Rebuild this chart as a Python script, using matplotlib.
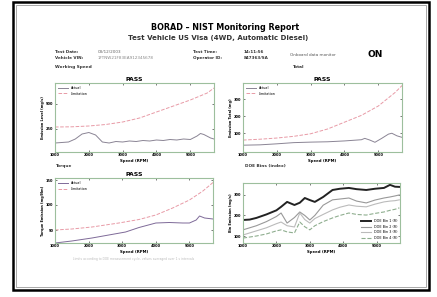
import matplotlib.pyplot as plt
from matplotlib.patches import Rectangle

# =========================
# data
# =========================
tl_rpm = [1000, 1200, 1400, 1600, 1800, 2000, 2200, 2400, 2600, 2800, 3000, 3200, 3400,
          3600, 3800, 4000, 4200, 4400, 4600, 4800, 5000, 5200, 5300, 5400, 5600, 5700]
tl_actual = [110, 115, 120, 150, 200, 215, 190, 120, 110, 125, 120, 130, 125,
             135, 130, 140, 135, 145, 140, 150, 145, 180, 205, 195, 160, 150]
tl_limit_rpm = [1000, 1500, 2000, 2500, 3000, 3500, 4000, 4500, 5000, 5500, 5700]
tl_limit = [270, 272, 280, 295, 320, 360, 420, 480, 540, 610, 660]

tr_rpm = [1000, 1500, 2000, 2500, 3000, 3500, 4000, 4500, 4600, 4750, 4900, 5100, 5300, 5400, 5550, 5700]
tr_actual = [30, 32, 38, 45, 48, 50, 55, 62, 70, 60, 47, 70, 95, 100, 85, 76]
tr_limit_rpm = [1000, 1500, 2000, 2500, 3000, 3500, 4000, 4500, 5000, 5500, 5700]
tr_limit = [60, 65, 72, 82, 97, 125, 165, 205, 260, 340, 380]

bl_rpm = [1000, 1500, 2100, 2600, 3100, 3500, 4000, 4400, 4800, 5000, 5200, 5300, 5450, 5700]
bl_actual = [24, 28, 34, 40, 46, 55, 64, 65, 64, 64, 70, 78, 74, 72]
bl_limit_rpm = [1000, 1500, 2100, 2900, 3500, 4000, 4500, 5000, 5400, 5700]
bl_limit = [50, 52, 56, 64, 71, 80, 94, 110, 128, 145]

br_rpm = [1000, 1200, 1400, 1700, 2000, 2140, 2320, 2540, 2700, 2850, 3000, 3150,
          3400, 3680, 3900, 4170, 4400, 4690, 4950, 5220, 5400, 5550, 5680]
br_bin1 = [178, 180, 188, 205, 225, 242, 266, 251, 262, 285, 275, 266,
           290, 324, 330, 334, 328, 324, 330, 334, 349, 340, 339]
br_bin2 = [130, 140, 150, 170, 195, 212, 163, 190, 217, 200, 178, 200,
           250, 276, 280, 285, 270, 261, 275, 285, 290, 295, 300]
br_bin3 = [105, 115, 125, 140, 160, 168, 150, 144, 212, 180, 163, 185,
           205, 227, 240, 251, 245, 242, 255, 266, 270, 272, 276]
br_bin4 = [90, 95, 100, 110, 125, 130, 120, 115, 168, 145, 130, 150,
           170, 188, 200, 212, 205, 202, 210, 217, 225, 230, 237]
br_labels = ['DOE Bin 1 (R)', 'DOE Bin 2 (R)', 'DOE Bin 3 (R)', 'DOE Bin 4 (R)']

x_ticks = [1000, 2000, 3000, 4000, 5000]

W, H = 437, 297
fig = plt.figure(figsize=(W / 100, H / 100), dpi=100)
fig.patch.set_facecolor('white')


def px_rect(x0, y0, x1, y1):
    return [x0 / W, 1 - y1 / H, (x1 - x0) / W, (y1 - y0) / H]


def px_text(x, y, s, **kw):
    fig.text(x / W, 1 - y / H, s, **kw)


# page frame
fig.patches.append(Rectangle((13 / W, 1 - 290 / H), 416 / W, 288 / H, transform=fig.transFigure,
                             fill=False, ec='black', lw=1.8))
fig.patches.append(Rectangle((16 / W, 1 - 287 / H), 410 / W, 282 / H, transform=fig.transFigure,
                             fill=False, ec='#9a9a9a', lw=0.6))

# header
px_text(225, 28, 'BORAD \u2013 NIST Monitoring Report', ha='center', va='center',
        fontsize=5.8, fontweight='bold')
px_text(218, 38, 'Test Vehicle US Visa (4WD, Automatic Diesel)', ha='center', va='center',
        fontsize=5.0, fontweight='bold', color='#333333')
info = dict(fontsize=3.0, va='center', color='#333333', fontweight='bold')
px_text(55, 52, 'Test Date:', **info)
px_text(55, 58, 'Vehicle VIN:', **info)
px_text(98, 52, '03/12/2003', fontsize=3.0, va='center', color='#666666')
px_text(98, 58, '1FTNW21F83EA912345678', fontsize=3.0, va='center', color='#888888')
px_text(193, 52, 'Test Time:', **info)
px_text(193, 58, 'Operator ID:', **info)
px_text(244, 52, '14:11:56', **info)
px_text(244, 58, '847363/SA', **info)
px_text(290, 55, 'Onboard data monitor', fontsize=3.0, va='center', color='#555555')
px_text(368, 55, 'ON', fontsize=6.5, va='center', fontweight='bold')

sec = dict(fontsize=3.1, va='center', color='#333333', fontweight='bold')
px_text(55, 67, 'Working Speed', **sec)
px_text(292, 67, 'Total', **sec)
px_text(55, 166, 'Torque', **sec)
px_text(245, 166, 'DOE Bins (index)', **sec)

spine_col = '#9dbf9d'


def style(ax, ylim, yticks, title=None):
    ax.set_xlim(1000, 5700)
    ax.set_ylim(*ylim)
    ax.set_xticks(x_ticks)
    ax.set_yticks(yticks)
    ax.tick_params(labelsize=2.6, length=1.5, width=0.5, pad=1, direction='in',
                   top=True, right=True, color='#444444')
    for lab in ax.get_xticklabels() + ax.get_yticklabels():
        lab.set_fontweight('bold')
    for s in ax.spines.values():
        s.set_color(spine_col)
        s.set_linewidth(0.8)
    ax.set_xlabel('Speed (RPM)', fontsize=2.8, labelpad=1.5, fontweight='bold')
    if title:
        ax.set_title(title, fontsize=4.4, fontweight='bold', pad=1.5)


# top left
ax1 = fig.add_axes(px_rect(55, 83, 214, 152))
ax1.plot(tl_rpm, tl_actual, color='#8a8494', lw=0.7, label='Actual')
ax1.plot(tl_limit_rpm, tl_limit, color='#e89aa6', lw=0.7, ls='--', label='Limitation')
style(ax1, (20, 710), [250, 500], 'PASS')
ax1.set_ylabel('Emission Level (mg/s)', fontsize=2.5, labelpad=1, fontweight='bold')
ax1.legend(loc='upper left', fontsize=2.4, frameon=False, handlelength=3)

# top right
ax2 = fig.add_axes(px_rect(243, 83, 402, 152))
ax2.plot(tr_rpm, tr_actual, color='#8a8494', lw=0.7, label='Actual')
ax2.plot(tr_limit_rpm, tr_limit, color='#e89aa6', lw=0.7, ls='--', label='Limitation')
style(ax2, (-10, 395), [100, 200, 300], 'PASS')
ax2.set_ylabel('Emission Total (mg)', fontsize=2.5, labelpad=1, fontweight='bold')
ax2.legend(loc='upper left', fontsize=2.4, frameon=False, handlelength=3)

# bottom left
ax3 = fig.add_axes(px_rect(55, 178, 213, 243))
ax3.plot(bl_rpm, bl_actual, color='#7e6a98', lw=0.7, label='Actual')
ax3.plot(bl_limit_rpm, bl_limit, color='#e89aa6', lw=0.7, ls='--', label='Limitation')
style(ax3, (24, 154), [50, 100, 150], 'PASS')
ax3.set_ylabel('Torque Emission (mg/Nm)', fontsize=2.5, labelpad=1, fontweight='bold')
ax3.legend(loc='upper left', fontsize=2.4, frameon=False, handlelength=3)

# bottom right
ax4 = fig.add_axes(px_rect(243, 183, 400, 243))
ax4.plot(br_rpm, br_bin1, color='#222222', lw=1.4, label=br_labels[0])
ax4.plot(br_rpm, br_bin2, color='#999999', lw=0.8, label=br_labels[1])
ax4.plot(br_rpm, br_bin3, color='#bbbbbb', lw=0.8, label=br_labels[2])
ax4.plot(br_rpm, br_bin4, color='#8fae8f', lw=0.8, ls='--', label=br_labels[3])
style(ax4, (66, 358), [100, 200, 300])
ax4.set_ylabel('Bin Emission (mg/s)', fontsize=2.5, labelpad=1, fontweight='bold')
ax4.legend(loc='lower right', fontsize=2.4, frameon=False, handlelength=3)

# footnote under bottom-left plot
px_text(134, 259, 'Limits according to DOE measurement cycle, values averaged over 1 s intervals',
        ha='center', fontsize=2.2, color='#bbbbbb', va='center')

fig.savefig('out.png', dpi=100)
